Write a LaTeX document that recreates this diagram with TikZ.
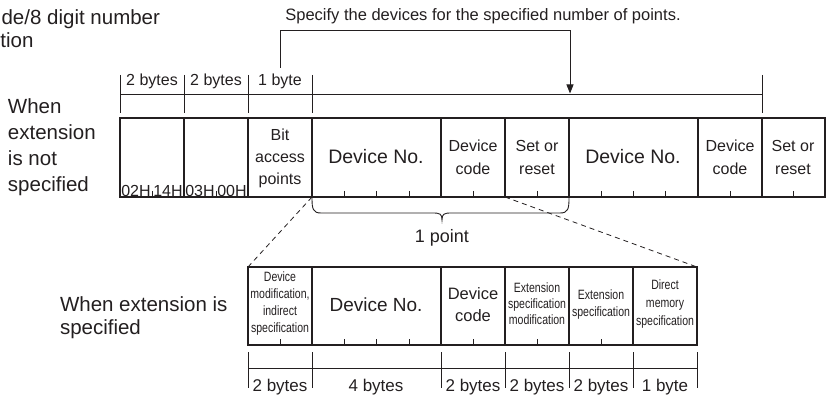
\documentclass[tikz,border=0pt]{standalone}
\usepackage{fontspec}
\setmainfont{Liberation Sans}
\newfontfamily\narrowfont[FakeStretch=0.78]{Liberation Sans}
\usetikzlibrary{arrows.meta}
\definecolor{ink}{HTML}{231F20}
\newcommand\myfs[2]{\fontsize{#1}{#2}\selectfont}
\begin{document}
\begin{tikzpicture}[x=1pt,y=-1pt,
  txt/.style={inner sep=0pt, outer sep=0pt, align=center, text=ink},
  frameline/.style={line width=1.1pt, draw=ink},
  thinline/.style={line width=0.9pt, draw=ink},
  tickline/.style={line width=0.9pt, draw=ink},
  dashline/.style={line width=0.8pt, draw=ink, dash pattern=on 5pt off 4pt},
  small/.style={font=\narrowfont\myfs{13.5}{17}}]
\useasboundingbox (0,0) rectangle (832,403);

% ---- top captions
\node[txt, anchor=base east, font=\myfs{20.5}{23}] (capA) at (160,25) {de/8 digit number};
\node[txt, anchor=base west, font=\myfs{20.5}{23}] (capB) at (0.5,48) {tion};
\node[txt, anchor=base, font=\myfs{16.5}{20}] (spec) at (483,21) {Specify the devices for the specified number of points.};

% ---- top byte rows
\draw[thinline] (120,94) -- (762,94);
\foreach \x in {120,184,248,312,762} \draw[thinline] (\x,75) -- (\x,113);
\node[txt, anchor=base, font=\myfs{16}{20}] (bA) at (152,86) {2 bytes};
\node[txt, anchor=base, font=\myfs{16}{20}] (bB) at (216,86) {2 bytes};
\node[txt, anchor=base, font=\myfs{16}{20}] (bC) at (280,86) {1 byte};

% ---- bracket arrow
\coordinate (brS) at (280,68);
\coordinate (brM) at (570,30);
\coordinate (brE) at (570,93.5);
\draw[thinline, -{Triangle[length=9pt,width=7pt]}] (brS) |- (brM) -- (brE);

% ---- left labels
\node[txt, align=left, anchor=west, font=\myfs{20.5}{26}] (lblUp) at (8,147.5) {When\\extension\\is not\\specified};
\node[txt, align=left, anchor=west, font=\myfs{20.5}{23}] (lblLo) at (60,318) {When extension is\\specified};

% ---- main box
\draw[frameline] (120,118) rectangle (825,197);
\foreach \x in {184,248,312,441,505,569,698,762} \draw[frameline] (\x,118) -- (\x,197);
\foreach \x in {152,216,344,376,409,473,537,601,633,665,730,793} \draw[tickline] (\x,191) -- (\x,197);

\node[txt, font=\myfs{16}{20}] (h1) at (136,191) {02H};
\node[txt, font=\myfs{16}{20}] (h2) at (168,191) {14H};
\node[txt, font=\myfs{16}{20}] (h3) at (200,191) {03H};
\node[txt, font=\myfs{16}{20}] (h4) at (232,191) {00H};
\node[txt, font=\myfs{16}{22}] (bap) at (280,158) {Bit\\access\\points};
\node[txt, font=\myfs{19.5}{24}] (dn1) at (376,157) {Device No.};
\node[txt, font=\myfs{16}{23}] (dc1) at (473,157) {Device\\code};
\node[txt, font=\myfs{16}{23}] (sr1) at (537,157) {Set or\\reset};
\node[txt, font=\myfs{19.5}{24}] (dn2) at (633,157) {Device No.};
\node[txt, font=\myfs{16}{23}] (dc2) at (730,157) {Device\\code};
\node[txt, font=\myfs{16}{23}] (sr2) at (793,157) {Set or\\reset};

% ---- brace
\draw[thinline] (312,198) .. controls (312,209) and (313,213) .. (321,213) -- (433,213)
  .. controls (440,213) and (442,214) .. (442,220)
  .. controls (442,214) and (444,213) .. (451,213) -- (560,213)
  .. controls (568,213) and (569,209) .. (569,198);
\node[txt, anchor=base, font=\myfs{18}{22}] (onept) at (442,243) {1 point};

% ---- dashed guides
\coordinate (dA1) at (312,197);
\coordinate (dA2) at (248,267);
\coordinate (dB1) at (505,197);
\coordinate (dB2) at (697,267);
\draw[dashline] (dA1) -- (dA2);
\draw[dashline] (dB1) -- (dB2);

% ---- lower box
\draw[frameline] (248,267) rectangle (697,345);
\foreach \x in {312,441,505,569,633} \draw[frameline] (\x,267) -- (\x,345);
\foreach \x in {280,344,376,409,473,537,601} \draw[tickline] (\x,339) -- (\x,345);

\node[txt, small] (ldm) at (280,304) {Device\\modification,\\indirect\\specification};
\node[txt, font=\myfs{19}{24}] (ldn) at (376,305) {Device No.};
\node[txt, font=\myfs{16.5}{22}] (ldc) at (473,305) {Device\\code};
\node[txt, small, font=\narrowfont\myfs{13.5}{16}] (lesm) at (537,304) {Extension\\specification\\modification};
\node[txt, small] (les) at (601,304.5) {Extension\\specification};
\node[txt, small, font=\narrowfont\myfs{13.5}{18}] (ldms) at (665,304.5) {Direct\\memory\\specification};

% ---- lower byte row
\draw[thinline] (248,368) -- (697,368);
\foreach \x in {248,312,441,505,569,633,697} \draw[thinline] (\x,352) -- (\x,388);
\node[txt, anchor=base, font=\myfs{17}{20}] (lb1) at (280,391) {2 bytes};
\node[txt, anchor=base, font=\myfs{17}{20}] (lb2) at (376,391) {4 bytes};
\node[txt, anchor=base, font=\myfs{17}{20}] (lb3) at (473,391) {2 bytes};
\node[txt, anchor=base, font=\myfs{17}{20}] (lb4) at (537,391) {2 bytes};
\node[txt, anchor=base, font=\myfs{17}{20}] (lb5) at (601,391) {2 bytes};
\node[txt, anchor=base, font=\myfs{17}{20}] (lb6) at (665,391) {1 byte};
\end{tikzpicture}
\end{document}
